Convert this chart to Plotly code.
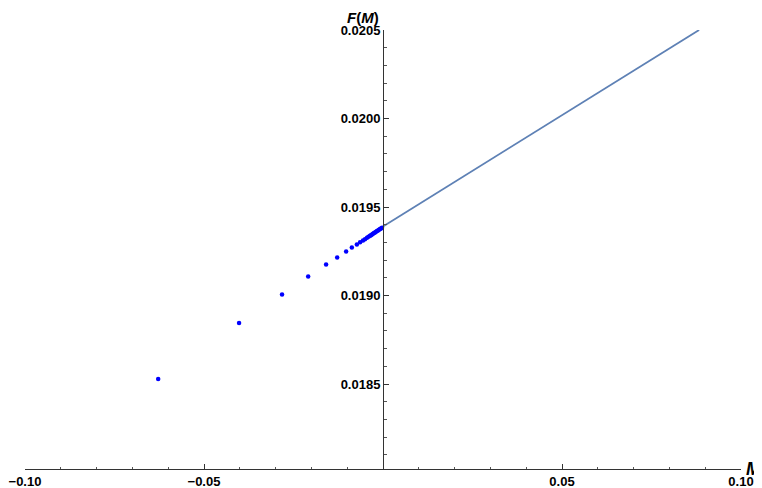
import plotly.graph_objects as go

# Data
dot_m = [-0.0628, -0.0402, -0.0282, -0.0209, -0.0159, -0.0128, -0.0103, -0.0087,
         -0.0073, -0.0064, -0.00559, -0.00503, -0.00447, -0.00405, -0.00363,
         -0.00335, -0.00307, -0.00279, -0.00251, -0.00223, -0.00196, -0.00168,
         -0.00140, -0.00112, -0.00084, -0.00056, -0.00028]
dot_f = [0.018528, 0.018845, 0.019006, 0.019107, 0.019175, 0.019215, 0.019249,
         0.019271, 0.019288, 0.019301, 0.019311, 0.019318, 0.019326, 0.019332,
         0.019337, 0.019341, 0.019345, 0.019349, 0.019353, 0.019356, 0.019360,
         0.019364, 0.019368, 0.019372, 0.019376, 0.019379, 0.019383]

line_m = [0.0, 0.0883]
line_f = [0.01939, 0.0205]

x_tickvals = [-0.10, -0.05, 0.0, 0.05, 0.10]
x_ticktext = ["\u22120.10", "\u22120.05", "", "0.05", "0.10"]
y_tickvals = [0.0185, 0.0190, 0.0195, 0.0200, 0.0205]
y_ticktext = ["0.0185", "0.0190", "0.0195", "0.0200", "0.0205"]

fig = go.Figure()
fig.add_trace(go.Scatter(x=line_m, y=line_f, mode="lines",
                         line=dict(color="#5E81B5", width=1.8),
                         hoverinfo="skip", showlegend=False))
fig.add_trace(go.Scatter(x=dot_m, y=dot_f, mode="markers",
                         marker=dict(color="#0000FF", size=4.5, line=dict(width=0)),
                         showlegend=False))

tickfont = dict(family="Liberation Sans, Arial, sans-serif", size=13,
                color="black", weight="bold")

# the page body adds an 8px offset, so margins are compensated accordingly
fig.update_layout(
    width=762, height=488,
    margin=dict(l=17, r=29, t=22, b=27),
    paper_bgcolor="white", plot_bgcolor="white",
    xaxis=dict(range=[-0.1, 0.1], showgrid=False, zeroline=False, automargin=False,
               showline=True, linecolor="#333333", linewidth=1,
               tickmode="array", tickvals=x_tickvals, ticktext=x_ticktext,
               ticks="inside", ticklen=5, tickcolor="#333333", tickwidth=1,
               minor=dict(ticks="inside", ticklen=2.5, dtick=0.01, tick0=0,
                          tickcolor="#555555", showgrid=False),
               tickfont=tickfont),
    yaxis=dict(range=[0.01802, 0.0205], showgrid=False, zeroline=False, automargin=False,
               anchor="free", position=0.5,
               showline=True, linecolor="#333333", linewidth=1,
               tickmode="array", tickvals=y_tickvals, ticktext=y_ticktext,
               ticks="inside", ticklen=5, tickcolor="#333333", tickwidth=1,
               minor=dict(ticks="inside", ticklen=2.5, dtick=0.0001, tick0=0.018,
                          tickcolor="#555555", showgrid=False),
               tickfont=tickfont),
    annotations=[
        dict(text="<b><i>F</i>(<i>M</i>)</b>", x=0, xref="x", y=1.0, yref="paper",
             xanchor="center", yanchor="top", xshift=-20, yshift=22, showarrow=False,
             borderpad=0,
             font=dict(family="Liberation Sans, Arial, sans-serif", size=15, color="black")),
        dict(text="<b><i>M</i></b>", x=0.1, xref="x", y=0.01802, yref="y",
             xanchor="left", yanchor="middle", xshift=3, yshift=0, showarrow=False,
             font=dict(family="Liberation Sans, Arial, sans-serif", size=18, color="black")),
    ],
)

fig.write_html("out.html")
